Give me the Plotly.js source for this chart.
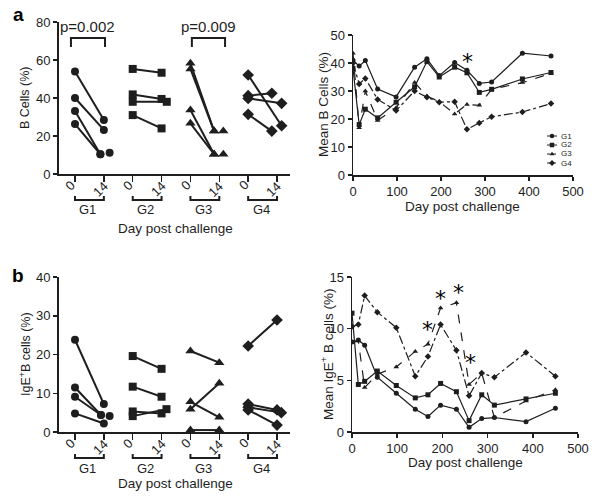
<!DOCTYPE html>
<html>
<head>
<meta charset="utf-8">
<script src="https://cdn.plot.ly/plotly-3.0.1.min.js"></script>
<style>html,body{margin:0;padding:0;background:#fff;}#chart{width:600px;height:502px;}</style>
</head>
<body>
<div id="chart"></div>
<script>
// ---------- DATA ----------
const groups = ["G1", "G2", "G3", "G4"];
const dayTicks = ["0", "14", "0", "14", "0", "14", "0", "14"];

// Panel a (left): B cells (%) at day 0 and day 14, paired per animal
const aG1d0  = [54, 40, 33.2, 26.3, null];
const aG1d14 = [28.4, 23.2, 10.4, 10.4, 11.2];
const aG2d0  = [55.3, 41.9, 38, 31];
const aG2d14 = [53.3, 39.5, 38, 24];
const aG3d0  = [58.3, 55.3, 33.7, 26.7, null, null];
const aG3d14 = [22.6, 22.6, 10.4, 10.4, 22.6, 10.4];
const aG4d0  = [52.1, 41.2, 39.8, 31.4];
const aG4d14 = [25.4, 42.5, 37.2, 22.6];

// Panel b (left): IgE+ B cells (%) at day 0 and day 14
const bG1d0  = [23.8, 11.5, 9.1, 4.8, null];
const bG1d14 = [7.2, 4.4, 4.4, 2.2, 4.1];
const bG2d0  = [19.6, 11.7, 5.3, 4.1];
const bG2d14 = [16.3, 9.1, 4.8, 5.9];
const bG3d0  = [20.9, 5.9, 7.8, 0.5];
const bG3d14 = [17.9, 12.6, 3.8, 0.5];
const bG4d0  = [22.2, 7.2, 6.4, 5.7];
const bG4d14 = [28.9, 5.7, 5.0, 1.8];

// Time courses (right panels)
const days = [0, 14, 28, 56, 98, 140, 168, 196, 231, 259, 287, 315, 385, 450];
const meanB_G1 = [41, 38.9, 40.9, 30.7, 27.9, 38.5, 41.5, 35.5, 40.2, 37.4, 32.7, 33.2, 43.5, 42.5];
const meanB_G2 = [38, 18, 23.5, 20.4, 26, 31.5, 40.5, 35, 38.5, 36.5, 29.5, 30.6, 34.3, 36.6];
const meanB_G3 = [43.5, 16.9, 30, 19.5, 24, 33, 28.2, 26.2, 21.8, 25.2, 24.9, 30.6, 33, 36.3];
const meanB_G4 = [40, 32.5, 34.5, 27, 23, 30, 27.8, 26, 26.2, 16.3, 18.6, 20.8, 22.5, 25.5];

const meanIgE_G1 = [8.7, 8.9, 8.4, 5.3, 3.75, 2.2, 1.5, 2.6, 2.2, 0.45, 1.3, 1.4, 1.0, 2.3];
const meanIgE_G2 = [11.5, 4.6, 4.9, 5.9, 4.5, 3.3, 3.6, 4.7, 3.9, 1.1, 3.6, 2.6, 3.2, 3.75];
const meanIgE_G3 = [8.7, 8.8, 4.3, 5.6, 6.3, 7.8, 8.5, 12.0, 12.5, 4.6, 5.7, 1.4, 3.0, 4.1];
const meanIgE_G4 = [10.2, 10.4, 13.2, 11.6, 10.1, 5.4, 7.3, 10.4, 7.9, 3.5, 5.7, 5.3, 7.7, 5.4];

// significance markers
const pLabels = ["p=0.002", "p=0.009"];
const starsA = {day: [261], val: [41.7]};
const starsB = {day: [166, 196, 235, 262], val: [10.2, 13.2, 13.8, 7.0]};

// ---------- STYLE / LAYOUT HELPERS ----------
// small horizontal jitter used for overlapping day-14 points (display only)
const jitter = {
  aG1: [0, 0, -0.12, -0.12, 0.2], aG2: [0, 0, 0.18, 0], aG3: [-0.18, -0.18, -0.18, -0.18, 0.14, 0.14], aG4: [0.16, -0.18, 0.16, -0.18],
  bG1: [0, -0.1, -0.1, 0, 0.2], bG2: [0, 0, 0, 0.17], bG3: [0, 0, 0, 0], bG4: [0, 0, 0.15, 0]
};
const ink = "#1e1e1e";
const FONT = "Liberation Sans, Arial, sans-serif";
const symbols = ["circle", "square", "triangle-up", "diamond"];
const dashes = ["solid", "solid", "dash", "dashdot"];
const H = 502, W = 600;
const py = px => (H - px) / H;
const pxx = px => px / W;

function pairTrace(g, d0, d14, jit, xa, ya, size) {
  const xs = [], ys = [];
  for (let i = 0; i < d14.length; i++) {
    if (d0[i] !== null && d0[i] !== undefined) { xs.push(2 * g); ys.push(d0[i]); }
    xs.push(2 * g + 1 + (jit[i] || 0)); ys.push(d14[i]);
    xs.push(null); ys.push(null);
  }
  return {x: xs, y: ys, xaxis: xa, yaxis: ya, mode: "lines+markers", type: "scatter",
    line: {color: ink, width: 2}, marker: {symbol: symbols[g], size: size, color: ink},
    hoverinfo: "skip", connectgaps: false};
}
function courseTrace(g, y, xa, ya) {
  return {x: days, y: y, xaxis: xa, yaxis: ya, mode: "lines+markers", type: "scatter",
    line: {color: ink, width: 1.2, dash: dashes[g]}, marker: {symbol: symbols[g], size: 5, color: ink},
    hoverinfo: "skip"};
}

const traces = [];
const aD0 = [aG1d0, aG2d0, aG3d0, aG4d0], aD14 = [aG1d14, aG2d14, aG3d14, aG4d14];
const bD0 = [bG1d0, bG2d0, bG3d0, bG4d0], bD14 = [bG1d14, bG2d14, bG3d14, bG4d14];
const aJ = [jitter.aG1, jitter.aG2, jitter.aG3, jitter.aG4], bJ = [jitter.bG1, jitter.bG2, jitter.bG3, jitter.bG4];
const sizes = [8, 8, 9, 9];
for (let g = 0; g < 4; g++) traces.push(pairTrace(g, aD0[g], aD14[g], aJ[g], "x", "y", sizes[g]));
for (let g = 0; g < 4; g++) traces.push(pairTrace(g, bD0[g], bD14[g], bJ[g], "x3", "y3", sizes[g]));
[meanB_G1, meanB_G2, meanB_G3, meanB_G4].forEach((s, g) => traces.push(courseTrace(g, s, "x2", "y2")));
[meanIgE_G1, meanIgE_G2, meanIgE_G3, meanIgE_G4].forEach((s, g) => traces.push(courseTrace(g, s, "x4", "y4")));

// legend samples drawn on a small hidden axis pair (panel a right)
groups.forEach((g, i) => {
  traces.push({x: [0, 1], y: [i, i], xaxis: "x5", yaxis: "y5", mode: "lines", type: "scatter",
    line: {color: ink, width: 1, dash: i < 2 ? "solid" : "dot"}, hoverinfo: "skip"});
  traces.push({x: [0.5], y: [i], xaxis: "x5", yaxis: "y5", mode: "markers", type: "scatter",
    marker: {symbol: symbols[i], size: 4.5, color: ink}, hoverinfo: "skip"});
});

const tickfont = {family: FONT, size: 13, color: ink};
function catAxis(domain, anchor) {
  return {domain: domain, anchor: anchor, range: [-0.554, 7.45], tickvals: [0,1,2,3,4,5,6,7],
    showticklabels: false, ticks: "outside", ticklen: 6, tickwidth: 1.5, tickcolor: ink, showline: true, linewidth: 2, linecolor: ink,
    showgrid: false, zeroline: false, fixedrange: true};
}
function numAxis(domain, anchor, range, dtick, lw) {
  return {domain: domain, anchor: anchor, range: range, dtick: dtick, ticks: "outside", ticklen: 4, tickwidth: 1.5, tickcolor: ink,
    showline: true, linewidth: lw, linecolor: ink, showgrid: false, zeroline: false, tickfont: tickfont, fixedrange: true};
}

const shapes = [], annotations = [];
function ann(text, x, y, opts) {
  annotations.push(Object.assign({text: text, x: x, y: y, xref: "paper", yref: "paper", showarrow: false,
    font: {family: FONT, size: 13, color: ink}, xanchor: "center", yanchor: "middle"}, opts || {}));
}
// rotated day tick labels, group brackets + group labels under the left panels
function groupBrackets(xref, axisPx, topPx, botPx, labelPx) {
  dayTicks.forEach((t, i) => {
    annotations.push({text: t, x: i, y: py(axisPx + (t === "0" ? 11 : 15)), xref: xref, yref: "paper", showarrow: false,
      xshift: t === "0" ? -5 : -4, textangle: -45, font: {family: FONT, size: 13, color: ink}, xanchor: "center", yanchor: "middle"});
  });
  for (let g = 0; g < 4; g++) {
    shapes.push({type: "path", xref: xref, yref: "paper",
      path: `M ${2*g},${py(topPx)} L ${2*g},${py(botPx)} L ${2*g+1},${py(botPx)} L ${2*g+1},${py(topPx)}`,
      line: {color: ink, width: 2}});
    annotations.push({text: groups[g], x: 2*g + 0.45, y: py(labelPx), xref: xref, yref: "paper", showarrow: false,
      font: {family: FONT, size: 13, color: ink}, xanchor: "center", yanchor: "middle"});
  }
}
groupBrackets("x", 174, 196, 200, 210);
groupBrackets("x3", 432, 454, 458, 468);

// p-value brackets (panel a left)
const pSpans = [[-0.14, 1.04], [4.05, 5.2]];
pSpans.forEach((s, i) => {
  shapes.push({type: "path", xref: "x", yref: "paper",
    path: `M ${s[0]},${py(47)} L ${s[0]},${py(38)} L ${s[1]},${py(38)} L ${s[1]},${py(47)}`,
    line: {color: ink, width: 2}});
  annotations.push({text: pLabels[i], x: (s[0] + s[1]) / 2, y: py(27), xref: "x", yref: "paper", showarrow: false,
    font: {family: FONT, size: 15, color: ink}, xanchor: "center", yanchor: "middle"});
});

// asterisks
starsA.day.forEach((d, i) => annotations.push({text: "*", x: d, y: starsA.val[i], xref: "x2", yref: "y2", showarrow: false,
  font: {family: "DejaVu Sans", size: 22, color: "#000"}, xanchor: "center", yanchor: "middle", yshift: -3}));
starsB.day.forEach((d, i) => annotations.push({text: "*", x: d, y: starsB.val[i], xref: "x4", yref: "y4", showarrow: false,
  font: {family: "DejaVu Sans", size: 22, color: "#000"}, xanchor: "center", yanchor: "middle", yshift: -3}));

// panel letters
ann("<b>a</b>", pxx(18), py(15), {font: {family: FONT, size: 19, color: "#000"}});
ann("<b>b</b>", pxx(18), py(275), {font: {family: FONT, size: 19, color: "#000"}});

// axis titles
ann("B Cells (%)", pxx(25), py(98), {textangle: -90, font: {family: FONT, size: 12.5, color: ink}});
ann("Day post challenge", pxx(175), py(228), {font: {family: FONT, size: 13.5, color: ink}});
ann("Mean B Cells (%)", pxx(323), py(105), {textangle: -90, font: {family: FONT, size: 13.5, color: ink}});
ann("Day post challenge", pxx(463), py(207), {font: {family: FONT, size: 13.5, color: ink}});
ann("IgE<sup>+</sup>B cells (%)", pxx(25), py(354), {textangle: -90, font: {family: FONT, size: 12.5, color: ink}});
ann("Day post challenge", pxx(175), py(483), {font: {family: FONT, size: 13.5, color: ink}});
ann("Mean IgE<sup>+</sup> B cells (%)", pxx(327), py(354), {textangle: -90, font: {family: FONT, size: 13.5, color: ink}});
ann("Day post challenge", pxx(465), py(462), {font: {family: FONT, size: 13.5, color: ink}});

// legend labels
const legY = [136, 145, 154, 163];
groups.forEach((g, i) => ann(g, pxx(559), py(legY[i]), {xanchor: "left", font: {family: FONT, size: 8, color: ink}}));

const hidden = {showline: false, showgrid: false, zeroline: false, showticklabels: false, ticks: "", fixedrange: true};
const layout = {
  width: W, height: H, margin: {l: 0, r: 0, t: 0, b: 0}, paper_bgcolor: "#fff", plot_bgcolor: "rgba(0,0,0,0)",
  showlegend: false, font: {family: FONT, color: ink},
  xaxis: catAxis([pxx(59), pxx(290)], "y"),
  yaxis: numAxis([py(174), py(22)], "x", [0, 80], 20, 2),
  xaxis2: numAxis([pxx(353), pxx(573)], "y2", [0, 500], 100, 1.5),
  yaxis2: numAxis([py(175), py(35)], "x2", [0, 50], 10, 1.5),
  xaxis3: catAxis([pxx(59), pxx(290)], "y3"),
  yaxis3: numAxis([py(432), py(277)], "x3", [0, 40], 10, 2),
  xaxis4: numAxis([pxx(352), pxx(578)], "y4", [0, 500], 100, 1.5),
  yaxis4: numAxis([py(432), py(277)], "x4", [0, 15], 5, 1.5),
  xaxis5: Object.assign({domain: [pxx(547), pxx(557)], anchor: "y5", range: [0, 1]}, hidden),
  yaxis5: Object.assign({domain: [py(167.5), py(131.5)], anchor: "x5", range: [3.5, -0.5]}, hidden),
  shapes: shapes, annotations: annotations
};
Plotly.newPlot("chart", traces, layout, {staticPlot: true, displayModeBar: false});
</script>
</body>
</html>
